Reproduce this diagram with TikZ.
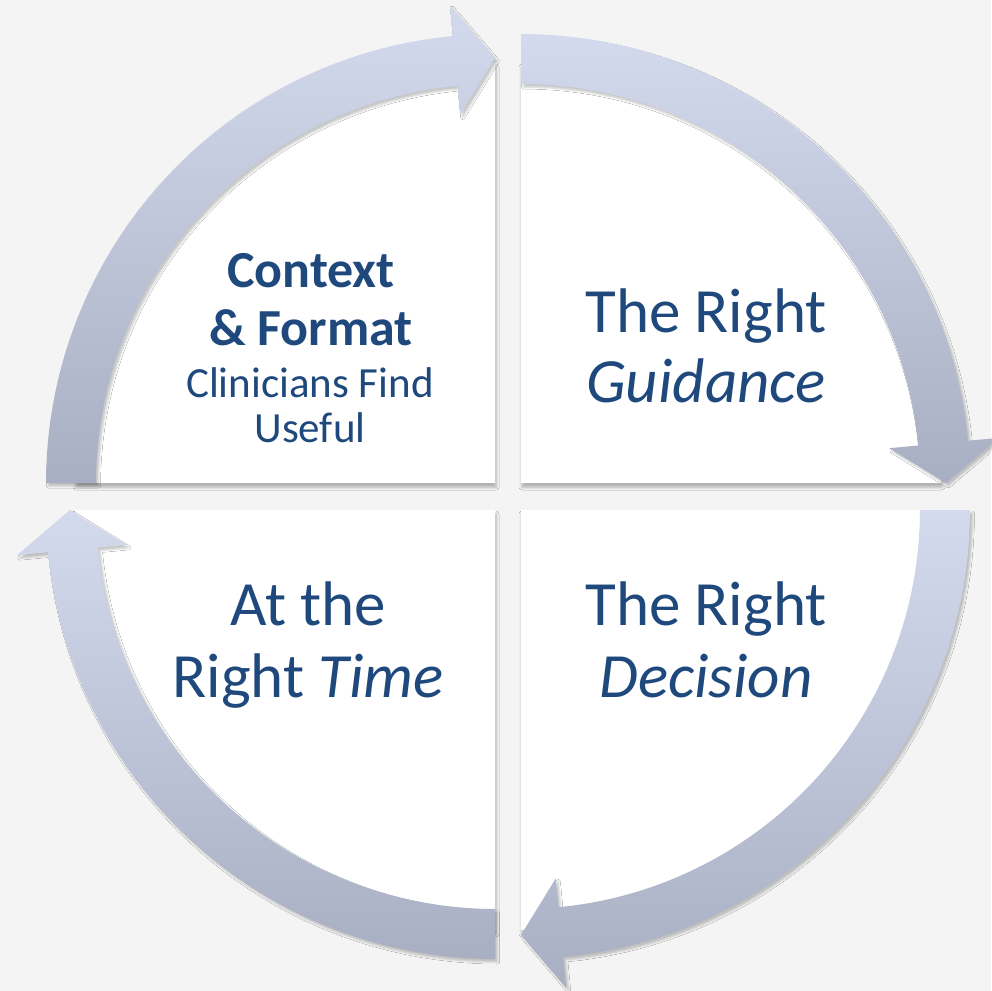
\documentclass[tikz,border=0pt]{standalone}
\usepackage{fontspec}
\setmainfont{Carlito}
\usetikzlibrary{shadows.blur}
\definecolor{bgc}{HTML}{F4F4F4}
\definecolor{arl}{HTML}{D3DAED}
\definecolor{ard}{HTML}{A8AFC3}
\definecolor{txc}{HTML}{1F497D}
\tikzset{
  sector/.style={fill=white, blur shadow={shadow xshift=1pt, shadow yshift=-4pt, shadow blur radius=3pt, shadow opacity=30}},
  band/.style={top color=arl, bottom color=ard, draw=none, blur shadow={shadow xshift=2.5pt, shadow yshift=-3pt, shadow blur radius=2pt, shadow opacity=22}},
  bigtxt/.style={anchor=base, inner sep=0pt, text=txc, font=\fontsize{63}{70}\selectfont},
  boldtxt/.style={anchor=base, inner sep=0pt, text=txc, font=\fontsize{52}{58}\selectfont\bfseries},
  smalltxt/.style={anchor=base, inner sep=0pt, text=txc, font=\fontsize{43}{47}\selectfont}
}
\begin{document}
\begin{tikzpicture}[x=1pt,y=-1pt]
\fill[bgc] (0,0) rectangle (991,991);
\useasboundingbox (0,0) rectangle (991,991);
\foreach \cx/\cy/\a in {495/483/180, 521/483/270, 521/510/0, 495/510/90}{
  \begin{scope}[shift={(\cx,\cy)}]
    \pgfmathsetmacro\b{\a+84.6}
    \pgfmathsetmacro\e{\a+90}
    \path[sector] (0,0) -- plot[variable=\t, domain=\a:\e, samples=46] (\t:420) -- cycle;
    \path[band] (\a:399) -- (\a:449)
      -- plot[variable=\t, domain=\a:\b, samples=44] (\t:449)
      -- (\b:480) -- (\e:425) -- (\b:370) -- (\b:399)
      -- plot[variable=\t, domain=\b:\a, samples=44] (\t:399) -- cycle;
  \end{scope}
}
\node[boldtxt] (ctx) at (311,287) {Context};
\node[boldtxt] (fmt) at (311,345) {\& Format};
\node[smalltxt] (cli) at (310,397) {Clinicians Find};
\node[smalltxt] (use) at (310,442) {Useful};
\node[bigtxt] (trg) at (706,332) {The Right};
\node[bigtxt] (gui) at (706,402) {\itshape Guidance};
\node[bigtxt] (att) at (308,625) {At the};
\node[bigtxt] (rtm) at (308,697) {Right \textit{Time}};
\node[bigtxt] (trd) at (706,625) {The Right};
\node[bigtxt] (dec) at (706,697) {\itshape Decision};
\end{tikzpicture}
\end{document}
